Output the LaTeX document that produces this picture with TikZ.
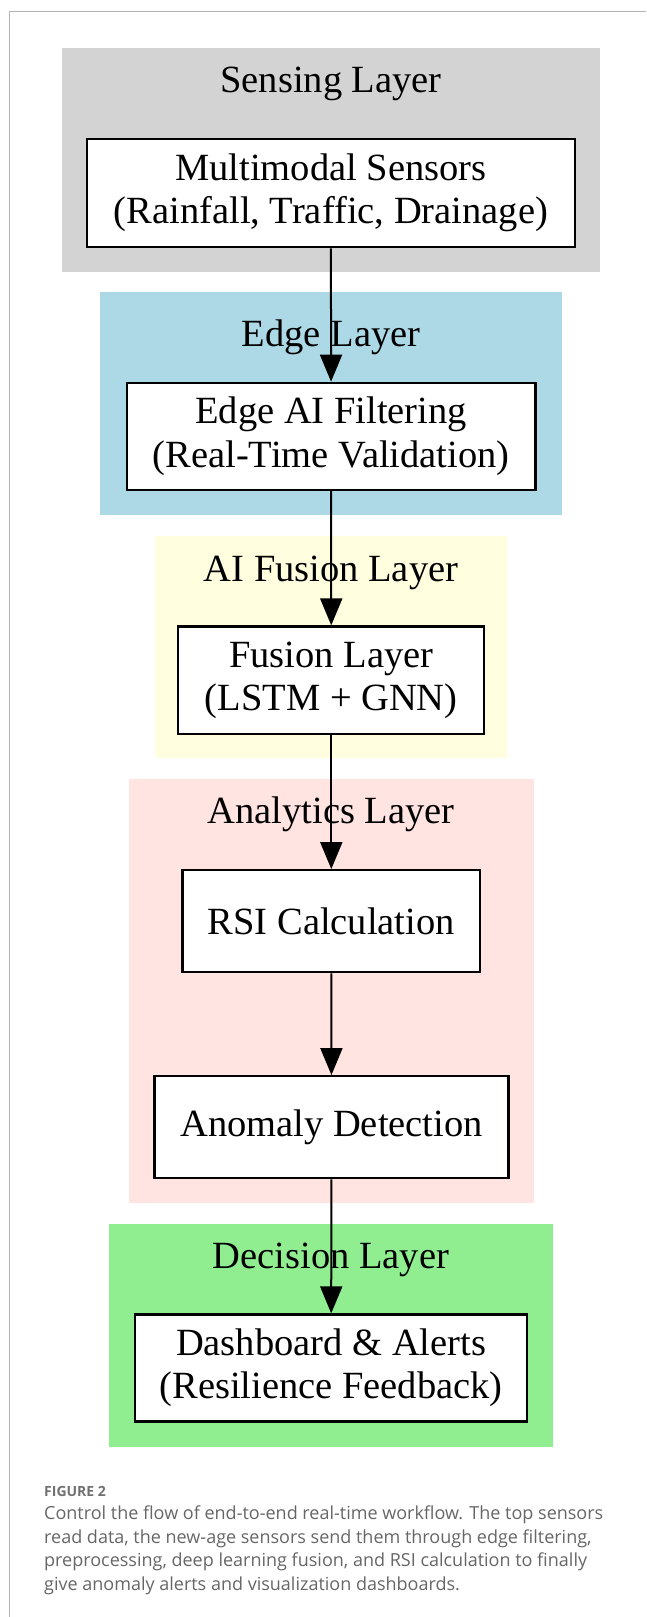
\documentclass[tikz,border=0pt]{standalone}
\usepackage{fontspec}
\setmainfont{Liberation Serif}
\newfontfamily\capfont{Open Sans}
\usetikzlibrary{arrows.meta}
\definecolor{sensbg}{HTML}{D3D3D3}
\definecolor{edgebg}{HTML}{ADD8E6}
\definecolor{fusbg}{HTML}{FFFFE0}
\definecolor{anabg}{HTML}{FFE4E1}
\definecolor{decbg}{HTML}{90EE90}
\definecolor{framecol}{HTML}{B4B4B4}
\definecolor{capcol}{HTML}{666666}
\definecolor{figcol}{HTML}{707070}
\begin{document}
\begin{tikzpicture}[x=1pt,y=-1pt,
  layerbg/.style={draw=none, inner sep=0pt},
  layerlbl/.style={anchor=base, inner sep=0pt, font=\fontsize{38.5}{43.3}\selectfont},
  procbox/.style={draw=black, line width=2.3pt, fill=white, inner sep=0pt, align=center,
    font=\fontsize{38.5}{43.3}\selectfont},
  flow/.style={line width=2pt, -{Triangle[length=27pt,width=22pt]}},
  capline/.style={anchor=base west, inner sep=0pt, text=capcol, font=\capfont\fontsize{18}{23.4}\selectfont}
]
\useasboundingbox (0,0) rectangle (646,1617);
% frame
\coordinate (fc) at (9,11);
\draw[framecol, line width=1pt] (646,11) -- (fc) -- (9,1617);
% layer backgrounds
\node[layerbg, fill=sensbg, minimum width=537.5pt, minimum height=223.4pt] (sensing) at (330.75,160) {};
\node[layerbg, fill=edgebg, minimum width=462pt, minimum height=222.7pt] (edge) at (331,403.65) {};
\node[layerbg, fill=fusbg, minimum width=352.3pt, minimum height=222.3pt] (fusion) at (330.65,647.15) {};
\node[layerbg, fill=anabg, minimum width=404.6pt, minimum height=424pt] (analytics) at (331.3,991.3) {};
\node[layerbg, fill=decbg, minimum width=444.2pt, minimum height=222.7pt] (decision) at (331.3,1335.35) {};
% layer labels
\node[layerlbl] (sensingL) at (331,92) {Sensing Layer};
\node[layerlbl] (edgeL) at (331,346.7) {Edge Layer};
\node[layerlbl] (fusionL) at (331,581) {AI Fusion Layer};
\node[layerlbl] (analyticsL) at (331,823.3) {Analytics Layer};
\node[layerlbl] (decisionL) at (331,1268.3) {Decision Layer};
% process boxes
\node[procbox, minimum width=488pt, minimum height=108.3pt] (ms) at (330.9,193) {Multimodal Sensors\\(Rainfall, Traffic, Drainage)};
\node[procbox, minimum width=408.5pt, minimum height=107pt] (ea) at (331.1,436.3) {Edge AI Filtering\\(Real-Time Validation)};
\node[procbox, minimum width=306pt, minimum height=107.4pt] (fl) at (331.3,680.2) {Fusion Layer\\(LSTM + GNN)};
\node[procbox, minimum width=297.7pt, minimum height=102pt] (rsi) at (331.3,921.2) {RSI Calculation};
\node[procbox, minimum width=354pt, minimum height=102pt] (ad) at (331.5,1127.2) {Anomaly Detection};
\node[procbox, minimum width=392pt, minimum height=107pt] (db) at (331.1,1368) {Dashboard \& Alerts\\(Resilience Feedback)};
% connectors
\draw[flow] (ms) -- (ea);
\draw[flow] (ea) -- (fl);
\draw[flow] (fl) -- (rsi);
\draw[flow] (rsi) -- (ad);
\draw[flow] (ad) -- (db);
% caption
\node[anchor=base west, inner sep=0pt, text=figcol, font=\capfont\bfseries\fontsize{14}{16}\selectfont] (figlbl) at (44,1496.7) {FIGURE 2};
\node[capline] (cap1) at (44,1519.5) {Control the flow of end-to-end real-time workflow. The top sensors};
\node[capline] (cap2) at (44,1543) {read data, the new-age sensors send them through edge filtering,};
\node[capline] (cap3) at (44,1566.5) {preprocessing, deep learning fusion, and RSI calculation to finally};
\node[capline] (cap4) at (44,1590) {give anomaly alerts and visualization dashboards.};
\end{tikzpicture}
\end{document}
